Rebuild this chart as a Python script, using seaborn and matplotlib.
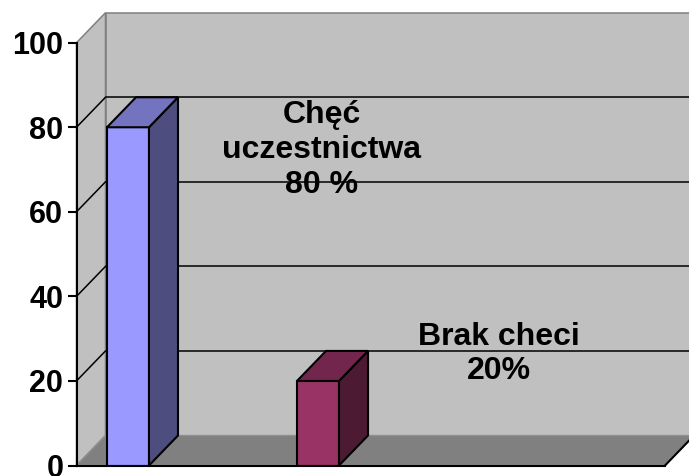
import numpy as np
import pandas as pd
import seaborn as sns
import matplotlib.pyplot as plt
from matplotlib.patches import Polygon

# dane
categories = ['Chęć uczestnictwa', 'Brak checi']
values = [80, 20]
labels = ['Chęć\nuczestnictwa\n80 %', 'Brak checi\n20%']
front_colors = ['#9999FF', '#993366']
side_colors = ['#4D4D80', '#4D1A33']
top_colors = ['#7373BF', '#73264D']
yticks = [0, 20, 40, 60, 80, 100]

sns.set_style('white')
plt.rcParams['font.family'] = ['Liberation Sans', 'DejaVu Sans']
plt.rcParams['text.color'] = 'black'
plt.rcParams['ytick.color'] = 'black'
plt.rcParams['ytick.labelcolor'] = 'black'

fig = plt.figure(figsize=(6.89, 4.76), dpi=100)
ax = fig.add_axes([76.5 / 689, 10.5 / 476, 588.5 / 689, 422.8 / 476])

df = pd.DataFrame({'cat': categories, 'val': values})
sns.barplot(data=df, x='cat', y='val', hue='cat', palette=front_colors,
            saturation=1, width=0.221, edgecolor='black', linewidth=1.5,
            legend=False, ax=ax, zorder=3)
bars = list(ax.patches)

xmin, xmax = -0.271, 2.826
ax.set_xlim(xmin, xmax)
ax.set_ylim(0, 100)

# glebokosc 3D (w pikselach -> jednostki danych)
px_x = 588.5 / (xmax - xmin)
px_y = 422.8 / 100
dx = 29 / px_x
dy = 30 / px_y

# tylna sciana
ax.add_patch(Polygon([(xmin + dx, dy), (xmax + dx, dy), (xmax + dx, 100 + dy), (xmin + dx, 100 + dy)],
                     closed=True, facecolor='#C0C0C0', edgecolor='#808080', linewidth=1.1,
                     clip_on=False, zorder=0))
# lewa sciana
ax.add_patch(Polygon([(xmin, 0), (xmin + dx, dy), (xmin + dx, 100 + dy), (xmin, 100)],
                     closed=True, facecolor='#C0C0C0', edgecolor='#808080', linewidth=1.1,
                     clip_on=False, zorder=0.5))
# siatka
for v in yticks[1:-1]:
    ax.plot([xmin + dx, xmax + dx], [v + dy, v + dy], color='black', lw=1.1, clip_on=False, zorder=0.6)
    ax.plot([xmin, xmin + dx], [v, v + dy], color='black', lw=1.1, clip_on=False, zorder=0.6)
# podloga
ax.add_patch(Polygon([(xmin, 0), (xmax, 0), (xmax + dx, dy), (xmin + dx, dy)],
                     closed=True, facecolor='#808080', edgecolor='#909090', linewidth=1.0,
                     clip_on=False, zorder=1))
ax.plot([xmax, xmax + dx], [0, dy], color='black', lw=1.5, clip_on=False, zorder=1.1)

# boki i gory slupkow
for i, bar in enumerate(bars):
    x0 = bar.get_x()
    w = bar.get_width()
    h = bar.get_height()
    ax.add_patch(Polygon([(x0 + w, 0), (x0 + w + dx, dy), (x0 + w + dx, h + dy), (x0 + w, h)],
                         closed=True, facecolor=side_colors[i], edgecolor='black', linewidth=1.5,
                         clip_on=False, zorder=3))
    ax.add_patch(Polygon([(x0, h), (x0 + dx, h + dy), (x0 + w + dx, h + dy), (x0 + w, h)],
                         closed=True, facecolor=top_colors[i], edgecolor='black', linewidth=1.5,
                         clip_on=False, zorder=3))

# etykiety
ax.text(1.02, 74.6, labels[0], ha='center', va='center', fontsize=23,
        fontweight='bold', color='black', zorder=5)
ax.text(1.95, 26.4, labels[1], ha='center', va='center', fontsize=23,
        fontweight='bold', color='black', zorder=5)

ax.set_yticks(yticks)
ax.set_yticklabels([str(t) for t in yticks], fontsize=22, fontweight='bold', color='black')
ax.set_xticks([])
ax.set_xlabel('')
ax.set_ylabel('')
ax.tick_params(axis='y', direction='out', length=6.5, width=1.5, pad=3, left=True, color='black')
ax.patch.set_alpha(0)
for s in ['top', 'right']:
    ax.spines[s].set_visible(False)
for s in ['left', 'bottom']:
    ax.spines[s].set_linewidth(1.5)
    ax.spines[s].set_color('black')
    ax.spines[s].set_zorder(4)

fig.savefig('out.png', dpi=100)
